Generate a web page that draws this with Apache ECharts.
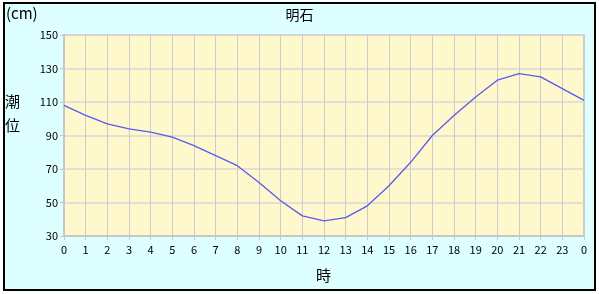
<!DOCTYPE html>
<html><head><meta charset="utf-8">
<script src="https://cdn.jsdelivr.net/npm/echarts@6/dist/echarts.min.js"></script>
<style>html,body{margin:0;padding:0;background:#fff}#c{width:599px;height:294px}</style>
</head><body><div id="c"></div>
<script>
const hours = ['0','1','2','3','4','5','6','7','8','9','10','11','12','13','14','15','16','17','18','19','20','21','22','23','0'];
const tide = [108,102,97,94,92,89,84,78,72,62,51,42,39,41,48,60,74,90,102,113,123,127,125,118,111];
const yTicks = [30,50,70,90,110,130,150];
const title = '明石';
const unitLabel = '(cm)';
const yName = ['潮','位'];
const xName = '時';

const chart = echarts.init(document.getElementById('c'), null, {renderer:'canvas'});
const font = '"Noto Sans CJK JP", "Noto Sans", sans-serif';
chart.setOption({
  backgroundColor:'#ffffff',
  animation:false,
  graphic:[
    {type:'rect', z:-10, shape:{x:4,y:3,width:591,height:287}, style:{fill:'#ddffff', stroke:'#000', lineWidth:2}},
    {type:'text', left:6, top:6, style:{text:unitLabel, font:'15px '+font, fill:'#000'}},
    {type:'text', left:5, top:94, style:{text:yName[0], font:'15px '+font, fill:'#000'}},
    {type:'text', left:5, top:118, style:{text:yName[1], font:'15px '+font, fill:'#000'}},
    {type:'text', left:316, top:268, style:{text:xName, font:'15px '+font, fill:'#000'}}
  ],
  title:{text:title, left:'center', top:3, textStyle:{fontSize:14, fontWeight:'normal', color:'#000', fontFamily:font}},
  grid:{left:64, top:35, width:520, height:201, show:true, backgroundColor:'#fff8cc', borderColor:'#cccccc', borderWidth:2},
  xAxis:{type:'category', data:hours, boundaryGap:false,
    axisLine:{lineStyle:{color:'#c8c8c8', width:2}},
    axisTick:{show:true, length:4, lineStyle:{color:'#c8c8c8'}},
    axisLabel:{color:'#000', fontSize:11, margin:8, fontFamily:font, interval:0},
    splitLine:{show:true, lineStyle:{color:'#cccccc', width:1}}},
  yAxis:{type:'value', min:30, max:150, interval:20,
    axisLine:{show:true, lineStyle:{color:'#c8c8c8', width:2}},
    axisTick:{show:true, length:4, lineStyle:{color:'#c8c8c8'}},
    axisLabel:{color:'#000', fontSize:11, margin:6, fontFamily:font},
    splitLine:{show:true, lineStyle:{color:'#d8d8d8', width:1.5}}},
  series:[{type:'line', data:tide, symbol:'none', smooth:false,
    lineStyle:{color:'#5a5aee', width:1.3}}]
});
</script></body></html>
